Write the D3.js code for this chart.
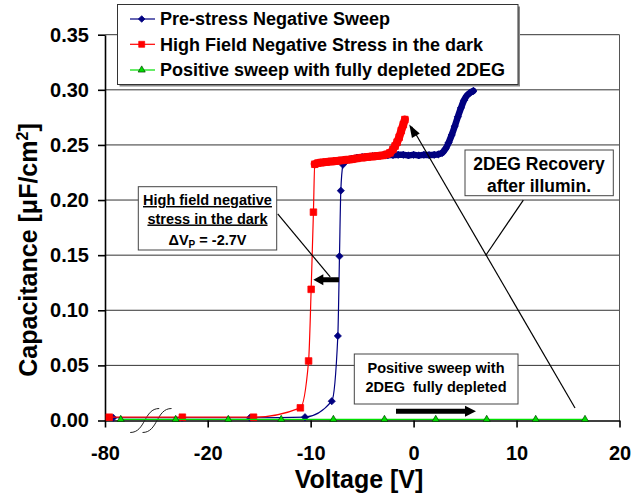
<!DOCTYPE html>
<html>
<head>
<meta charset="utf-8">
<script src="https://cdn.jsdelivr.net/npm/d3@7"></script>
<style>
body { margin: 0; background: #fff; }
svg text { font-family: "Liberation Sans", Arial, sans-serif; font-weight: bold; fill: #000; }
</style>
</head>
<body>
<div id="container"></div>
<script>
// tick labels
var voltageTicks = [-80, -20, -10, 0, 10, 20];
var capTicks = [0, 0.05, 0.10, 0.15, 0.20, 0.25, 0.30, 0.35];

// Pre-stress Negative Sweep (blue) - sparse points, then the dense plateau
var preSweep = [[-75.2, 0.0025], [-35.0, 0.0025], [-15.9, 0.0025], [-10.55, 0.003], [-7.95, 0.0175],
    [-7.36, 0.0767], [-7.2, 0.149], [-7.07, 0.2085], [-6.87, 0.232]];
var preSweepDense = [[-6.8, 0.234], [-6.5, 0.236], [-6.0, 0.2375], [-5.5, 0.2385], [-5.0, 0.239],
    [-4.5, 0.2394], [-4.0, 0.2398], [-3.5, 0.2402], [-3.0, 0.2405], [-2.5, 0.2407], [-2.0, 0.2408],
    [-1.5, 0.241], [-1.0, 0.241], [-0.5, 0.2405], [0, 0.241], [0.5, 0.2405], [1.0, 0.241],
    [1.5, 0.2408], [2.0, 0.241], [2.4, 0.2415], [2.8, 0.243], [3.1, 0.2465], [3.4, 0.252],
    [3.7, 0.259], [4.0, 0.267], [4.3, 0.2755], [4.6, 0.2835], [4.9, 0.2905], [5.2, 0.295],
    [5.5, 0.2975], [5.8, 0.299]];

// High Field Negative Stress in the dark (red)
var stressSweep = [[-77.5, 0.003], [-34.8, 0.003], [-15.55, 0.003], [-11.0, 0.0115], [-10.2, 0.054],
    [-9.95, 0.119], [-9.73, 0.189]];
var stressSweepDense = [[-9.6, 0.2325], [-9.3, 0.2335], [-9.0, 0.234], [-8.5, 0.2345], [-8.0, 0.235],
    [-7.5, 0.2355], [-7.0, 0.236], [-6.5, 0.2365], [-6.0, 0.237], [-5.5, 0.2378], [-5.0, 0.2385],
    [-4.5, 0.239], [-4.0, 0.2395], [-3.5, 0.24], [-3.0, 0.2405], [-2.6, 0.2415], [-2.3, 0.2428],
    [-2.0, 0.246], [-1.8, 0.249], [-1.6, 0.2525], [-1.4, 0.257], [-1.2, 0.263], [-1.0, 0.2685],
    [-0.85, 0.273]];

// Positive sweep with fully depleted 2DEG (green)
var depletedSweep = [[-70.8, 0.001], [-38.7, 0.001], [-18.0, 0.001], [-12.86, 0.001], [-7.79, 0.001],
    [-2.83, 0.001], [2.15, 0.001], [7.1, 0.001], [11.86, 0.001], [16.65, 0.001]];

var legendNames = ["Pre-stress Negative Sweep", "High Field Negative Stress in the dark",
    "Positive sweep with fully depleted 2DEG"];

// where the axis break is drawn (voltage units on the compressed part)
var breakMarks = [-56.8, -49.6];

width = 644;
height = 500;
var plotLeft = 105, plotRight = 619.5, plotTop = 34.7, plotBottom = 420.5;

var font = '"Liberation Sans", Arial, sans-serif';

var svg = d3.select("#container").append("svg")
    .attr("width", width)
    .attr("height", height);

// x axis is broken: -80..-20 squeezed into one tick interval
var x = d3.scaleLinear().domain([-80, -20, 20]).range([plotLeft, 207.7, plotRight]);
var y = d3.scaleLinear().domain([0, 0.35]).range([plotBottom, plotTop]);

// gridlines
svg.append("g")
    .selectAll("line")
    .data(capTicks.slice(1))
    .enter().append("line")
    .attr("x1", plotLeft).attr("x2", plotRight)
    .attr("y1", function(d) { return y(d); })
    .attr("y2", function(d) { return y(d); })
    .style("stroke", "#333")
    .style("stroke-width", 1);

// right frame
svg.append("line")
    .attr("x1", plotRight).attr("x2", plotRight)
    .attr("y1", plotTop).attr("y2", plotBottom)
    .style("stroke", "#555");

// axes
var yAxis = svg.append("g")
    .attr("transform", "translate(" + plotLeft + ",0)")
    .call(d3.axisLeft(y).tickValues(capTicks).tickFormat(d3.format(".2f"))
        .tickSize(7).tickSizeOuter(0).tickPadding(9));

var xAxis = svg.append("g")
    .attr("transform", "translate(0," + plotBottom + ")")
    .call(d3.axisBottom(x).tickValues(voltageTicks).tickFormat(function(d) { return String(d); })
        .tickSize(7).tickSizeOuter(0).tickPadding(18));

[xAxis, yAxis].forEach(function(a) {
    a.selectAll("path, line").style("stroke", "#000").style("stroke-width", 1.6);
    a.selectAll("text").style("font-size", "20px").style("font-family", font).style("font-weight", "bold");
});

// break marks
svg.append("g")
    .selectAll("path")
    .data(breakMarks)
    .enter().append("path")
    .attr("d", function(d) {
        var cx = x(d), cy = plotBottom;
        return "M" + (cx - 14.5) + "," + (cy + 12) + " C" + (cx + 1) + "," + (cy + 12) + " " +
            (cx - 1) + "," + (cy - 12) + " " + (cx + 14.5) + "," + (cy - 12);
    })
    .style("fill", "none")
    .style("stroke", "#222")
    .style("stroke-width", 1);

var line = d3.line()
    .x(function(d) { return x(d[0]); })
    .y(function(d) { return y(d[1]); })
    .curve(d3.curveMonotoneX);

var squareSym = d3.symbol().type(d3.symbolSquare);
var triSym = d3.symbol().type(d3.symbolTriangle);

function drawSeries(sparse, dense, color, bandWidth, markerPath, markerFill, markerStroke, rotate) {
    var all = sparse.concat(dense || []);
    svg.append("path")
        .attr("d", line(all))
        .style("fill", "none")
        .style("stroke", color)
        .style("stroke-width", 1.2);
    if (dense) {
        svg.append("path")
            .attr("d", line(dense))
            .style("fill", "none")
            .style("stroke", color)
            .style("stroke-width", bandWidth)
            .style("stroke-linecap", "round")
            .style("stroke-linejoin", "round");
    }
    svg.append("g")
        .selectAll("path")
        .data(all)
        .enter().append("path")
        .attr("d", markerPath)
        .attr("transform", function(d) {
            return "translate(" + x(d[0]) + "," + y(d[1]) + ")" + (rotate ? " rotate(45)" : "");
        })
        .style("fill", markerFill)
        .style("stroke", markerStroke)
        .style("stroke-width", 0.7);
}

drawSeries(preSweep, preSweepDense, "#000080", 6.5, squareSym.size(26)(), "#000080", "#000080", true);
drawSeries(stressSweep, stressSweepDense, "#ff0000", 8, squareSym.size(44)(), "#ff0000", "#ff0000", false);
drawSeries(depletedSweep, null, "#00e000", 0, triSym.size(22)(), "#00dd00", "#004000", false);

// annotation boxes
function textBox(x0, y0, x1, y1) {
    svg.append("rect")
        .attr("x", x0).attr("y", y0)
        .attr("width", x1 - x0).attr("height", y1 - y0)
        .style("fill", "#fff")
        .style("stroke", "#444")
        .style("stroke-width", 1);
}

function thinLine(a, b) {
    svg.append("line")
        .attr("x1", x(a[0])).attr("y1", y(a[1]))
        .attr("x2", x(b[0])).attr("y2", y(b[1]))
        .style("stroke", "#000")
        .style("stroke-width", 1.2);
}

function blockArrow(a, b, shaft, headW, headL) {
    var x1 = x(a[0]), y1 = y(a[1]), x2 = x(b[0]), y2 = y(b[1]);
    var dx = x2 - x1, dy = y2 - y1, len = Math.sqrt(dx * dx + dy * dy);
    var ux = dx / len, uy = dy / len, nx = -uy, ny = ux;
    var bx = x2 - ux * headL, by = y2 - uy * headL;
    var pts = [
        [x1 + nx * shaft / 2, y1 + ny * shaft / 2],
        [bx + nx * shaft / 2, by + ny * shaft / 2],
        [bx + nx * headW / 2, by + ny * headW / 2],
        [x2, y2],
        [bx - nx * headW / 2, by - ny * headW / 2],
        [bx - nx * shaft / 2, by - ny * shaft / 2],
        [x1 - nx * shaft / 2, y1 - ny * shaft / 2]
    ];
    svg.append("polygon")
        .attr("points", pts.map(function(p) { return p.join(","); }).join(" "))
        .style("fill", "#000");
}

// high field box
thinLine([-13.2, 0.1875], [-8.1, 0.1302]);
textBox(138.3, 186.7, 276.7, 250);
var hf = svg.append("text").attr("text-anchor", "middle").style("font-size", "14.5px");
hf.append("tspan").attr("x", 207.5).attr("y", 205).style("text-decoration", "underline").text("High field negative");
hf.append("tspan").attr("x", 207.5).attr("y", 223.5).style("text-decoration", "underline").text("stress in the dark");
var dv = svg.append("text").attr("x", 207.5).attr("y", 245).attr("text-anchor", "middle").style("font-size", "14.5px");
dv.append("tspan").text("\u0394V");
dv.append("tspan").attr("dy", 3).style("font-size", "10px").text("P");
dv.append("tspan").attr("dy", -3).text(" = -2.7V");
blockArrow([-7.25, 0.1276], [-9.74, 0.1276], 5, 11, 10);

// 2DEG recovery
thinLine([15.68, 0.0113], [-0.2, 0.2665]);
svg.append("polygon")
    .attr("points", (function() {
        var x1 = x(15.68), y1 = y(0.0113), x2 = x(-0.42), y2 = y(0.2685);
        var dx = x2 - x1, dy = y2 - y1, len = Math.sqrt(dx * dx + dy * dy);
        var ux = dx / len, uy = dy / len, nx = -uy, ny = ux;
        var bx = x2 - ux * 13, by = y2 - uy * 13;
        return [[x2, y2], [bx + nx * 4.5, by + ny * 4.5], [bx - nx * 4.5, by - ny * 4.5]]
            .map(function(p) { return p.join(","); }).join(" ");
    })())
    .style("fill", "#000");
thinLine([10.66, 0.2], [7.0, 0.1497]);
textBox(465, 150, 613.3, 195.7);
svg.append("text").attr("x", 539).attr("y", 170).attr("text-anchor", "middle")
    .style("font-size", "17.5px").text("2DEG Recovery");
svg.append("text").attr("x", 539).attr("y", 192).attr("text-anchor", "middle")
    .style("font-size", "17.5px").text("after illumin.");

// positive sweep box
textBox(354.3, 354, 518, 404);
svg.append("text").attr("x", 436).attr("y", 372.5).attr("text-anchor", "middle")
    .style("font-size", "14.5px").text("Positive sweep with");
svg.append("text").attr("x", 436).attr("y", 392).attr("text-anchor", "middle")
    .style("font-size", "14.5px").attr("xml:space", "preserve").style("white-space", "pre")
    .text("2DEG  fully depleted");
blockArrow([-1.71, 0.0083], [6.06, 0.0083], 5, 11, 11);

// axis titles
svg.append("text")
    .attr("x", 359).attr("y", 488)
    .attr("text-anchor", "middle")
    .style("font-size", "25px")
    .text("Voltage [V]");

var yt = svg.append("text")
    .attr("transform", "translate(37,250) rotate(-90)")
    .attr("text-anchor", "middle")
    .style("font-size", "25px");
yt.append("tspan").text("Capacitance [\u03bcF/cm");
yt.append("tspan").attr("dy", -9).style("font-size", "16px").text("2");
yt.append("tspan").attr("dy", 9).text("]");

// legend
svg.append("rect")
    .attr("x", 119.5).attr("y", 6.5).attr("width", 400.5).attr("height", 80)
    .style("fill", "#888");
svg.append("rect")
    .attr("x", 117.5).attr("y", 4.5).attr("width", 400.5).attr("height", 80)
    .style("fill", "#fff").style("stroke", "#333").style("stroke-width", 1);

var legendColors = ["#000080", "#ff0000", "#00e000"];
var legendRows = [19, 44.3, 70];
var legend = svg.append("g")
    .selectAll("g")
    .data(legendNames)
    .enter().append("g")
    .attr("transform", function(d, i) { return "translate(0," + legendRows[i] + ")"; });

legend.append("line")
    .attr("x1", 130).attr("x2", 155)
    .style("stroke", function(d, i) { return legendColors[i]; })
    .style("stroke-width", 1.2);
legend.append("path")
    .attr("d", function(d, i) {
        return i === 0 ? squareSym.size(22)() : i === 1 ? squareSym.size(36)() : triSym.size(22)();
    })
    .attr("transform", function(d, i) { return "translate(141.7,0)" + (i === 0 ? " rotate(45)" : ""); })
    .style("fill", function(d, i) { return i === 2 ? "#00dd00" : legendColors[i]; })
    .style("stroke", function(d, i) { return i === 2 ? "#004000" : legendColors[i]; })
    .style("stroke-width", 0.7);
legend.append("text")
    .attr("x", 160).attr("y", 6.4)
    .style("font-size", "18px")
    .text(function(d) { return d; });
</script>
</body>
</html>
